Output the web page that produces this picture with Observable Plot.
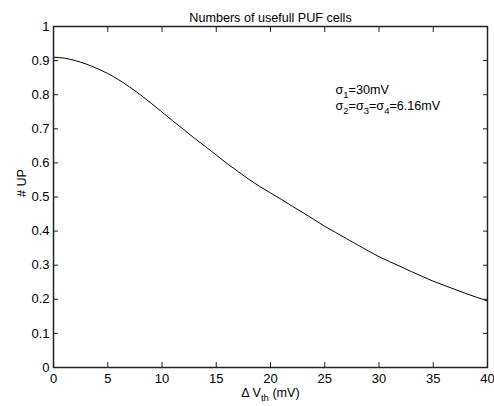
<!DOCTYPE html>
<html><head><meta charset="utf-8">
<script src="https://cdn.jsdelivr.net/npm/d3@7"></script>
<script src="https://cdn.jsdelivr.net/npm/@observablehq/plot@0.6"></script>
<style>
body{margin:0;background:#fff;}
#chart svg{display:block;}
</style>
</head><body><div id="chart"></div>
<script>
const titleText = "Numbers of usefull PUF cells";
const xLabelText = "Δ V_th (mV)";
const yLabelText = "# UP";
const annotationLine1 = "σ_1=30mV";
const annotationLine2 = "σ_2=σ_3=σ_4=6.16mV";
const xTicks = [0, 5, 10, 15, 20, 25, 30, 35, 40];
const yTicks = [0, 0.1, 0.2, 0.3, 0.4, 0.5, 0.6, 0.7, 0.8, 0.9, 1];
const deltaVth = [0,1,2,3,4,5,6,7,8,9,10,11,12,13,14,15,16,17,18,19,20,21,22,23,24,25,26,27,28,29,30,31,32,33,34,35,36,37,38,39,40];
const numUP = [0.910,0.907,0.900,0.890,0.877,0.862,0.844,0.823,0.800,0.775,0.749,0.723,0.698,0.672,0.648,0.623,0.598,0.575,0.552,0.531,0.512,0.493,0.473,0.454,0.434,0.414,0.396,0.378,0.360,0.342,0.325,0.310,0.296,0.281,0.267,0.253,0.241,0.229,0.217,0.206,0.195];

const rows = deltaVth.map((x, i) => ({x, y: numUP[i]}));
const font = "'Liberation Sans', Arial, Helvetica, sans-serif";
const axisColor = "#222";

const chart = Plot.plot({
  width: 494,
  height: 406,
  marginTop: 26,
  marginBottom: 39,
  marginLeft: 53,
  marginRight: 7,
  style: {fontFamily: font, fontSize: "13px", color: "#000", background: "#fff"},
  x: {domain: [0, 40]},
  y: {domain: [0, 1]},
  marks: [
    Plot.line(rows, {x: "x", y: "y", stroke: "#000", strokeWidth: 1, curve: "monotone-x"}),
    Plot.frame({stroke: axisColor, strokeWidth: 1.5}),
    Plot.axisX({anchor: "bottom", ticks: xTicks, tickSize: -5, text: null, label: null, stroke: axisColor}),
    Plot.axisX({anchor: "top", ticks: xTicks, tickSize: -5, text: null, label: null, stroke: axisColor}),
    Plot.axisY({anchor: "left", ticks: yTicks, tickSize: -5, text: null, label: null, stroke: axisColor}),
    Plot.axisY({anchor: "right", ticks: yTicks, tickSize: -5, text: null, label: null, stroke: axisColor}),
    Plot.axisX({anchor: "bottom", ticks: xTicks, tickSize: 0, tickPadding: 6, label: null, fill: "#000"}),
    Plot.axisY({anchor: "left", ticks: yTicks, tickSize: 0, tickPadding: 4, label: null, tickFormat: d => String(+d.toFixed(1)), fill: "#000"}),
    Plot.text([titleText], {frameAnchor: "top", dy: -13.5, fontSize: 12.6, fill: "#000"}),
    Plot.text([xLabelText], {frameAnchor: "bottom", dy: 29, fontSize: 12.6, fill: "#000"}),
    Plot.text([yLabelText], {frameAnchor: "left", dx: -32, rotate: -90, fontSize: 12.6, fill: "#000"}),
    Plot.text([annotationLine1], {frameAnchor: "top-left", dx: 282, dy: 59, textAnchor: "start", fontSize: 12.6, fill: "#000"}),
    Plot.text([annotationLine2], {frameAnchor: "top-left", dx: 282, dy: 75, textAnchor: "start", fontSize: 12.6, fill: "#000"})
  ]
});

// Render "_x" as subscripts
d3.select(chart).selectAll("text").each(function() {
  const t = this.textContent;
  if (!t.includes("_")) return;
  const sel = d3.select(this);
  sel.text(null);
  const parts = t.split(/_(th|\d)/);
  parts.forEach((p, i) => {
    if (!p) return;
    if (i % 2 === 1) {
      sel.append("tspan").attr("dy", "4").attr("font-size", "9.5").text(p);
    } else {
      const ts = sel.append("tspan").text(p);
      if (i > 0) ts.attr("dy", "-4");
    }
  });
});

document.getElementById("chart").appendChild(chart);
</script>
</body></html>
